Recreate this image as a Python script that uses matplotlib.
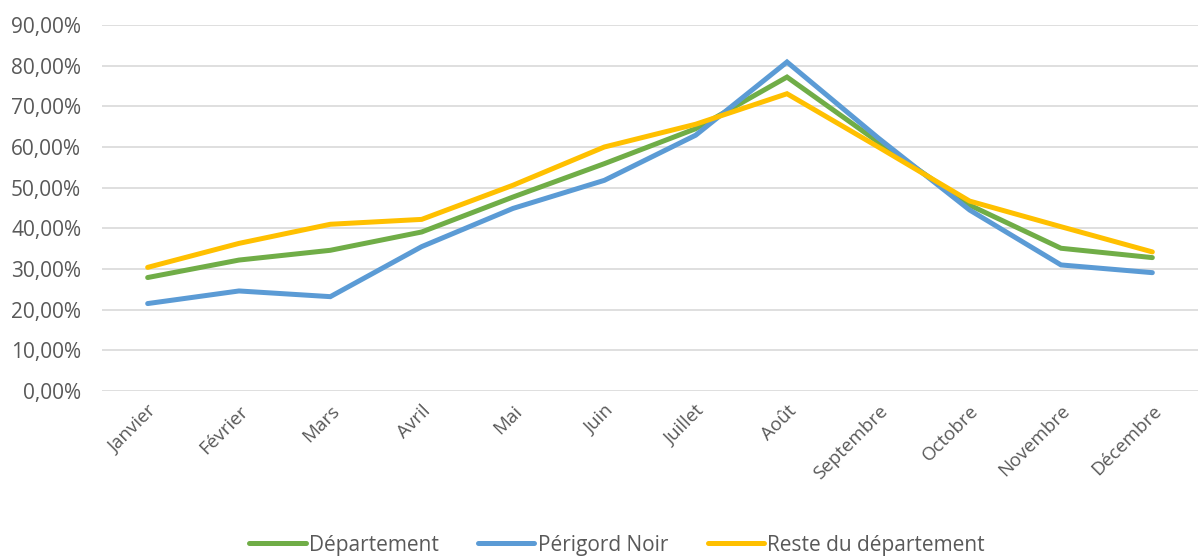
import numpy as np
import matplotlib.pyplot as plt
from matplotlib.ticker import FuncFormatter

# Données
mois = ['Janvier', 'Février', 'Mars', 'Avril', 'Mai', 'Juin', 'Juillet',
        'Août', 'Septembre', 'Octobre', 'Novembre', 'Décembre']
departement = [27.9, 32.2, 34.6, 39.1, 47.7, 55.9, 64.5, 77.2, 61.2, 45.7, 35.1, 32.8]
perigord_noir = [21.5, 24.6, 23.2, 35.5, 44.9, 51.8, 62.9, 80.9, 62.2, 44.5, 31.0, 29.1]
reste_dep = [30.4, 36.3, 41.0, 42.2, 50.6, 60.0, 65.6, 73.1, 60.0, 46.7, 40.4, 34.2]

series = [
    ('Département', departement, '#70ad47'),
    ('Périgord Noir', perigord_noir, '#5b9bd5'),
    ('Reste du département', reste_dep, '#ffc000'),
]

plt.rcParams['font.family'] = ['Open Sans', 'DejaVu Sans']
gris = '#595959'

fig = plt.figure(figsize=(11.98, 5.58), dpi=100)
ax = fig.add_axes([102 / 1198, 1 - 391 / 558, 1096 / 1198, 366 / 558])

x = np.arange(len(mois))
for nom, valeurs, couleur in series:
    ax.plot(x, np.array(valeurs) / 100, color=couleur, lw=3.6, label=nom,
            solid_capstyle='round', solid_joinstyle='miter')

ax.set_xlim(-0.5, len(mois) - 0.5)
ax.set_ylim(0, 0.9)
ax.set_yticks(np.arange(0, 0.91, 0.1))
ax.yaxis.set_major_formatter(FuncFormatter(lambda v, p: f'{v * 100:.2f}%'.replace('.', ',')))
ax.set_xticks(x)
ax.set_xticklabels(mois, rotation=45, ha='right', rotation_mode='anchor')
ax.tick_params(axis='both', length=0, colors=gris)
ax.tick_params(axis='x', pad=8, labelsize=13.5)
ax.tick_params(axis='y', pad=15, labelsize=15)
ax.grid(axis='y', color='#d9d9d9', lw=1.2)
ax.set_axisbelow(True)
for s in ax.spines.values():
    s.set_visible(False)

leg = fig.legend(loc='center', bbox_to_anchor=(0.515, 1 - 545 / 558), ncol=3,
                 frameon=False, fontsize=15, handlelength=2.7,
                 handletextpad=0.15, columnspacing=1.9)
for t in leg.get_texts():
    t.set_color(gris)

fig.savefig('out.png', dpi=100)
